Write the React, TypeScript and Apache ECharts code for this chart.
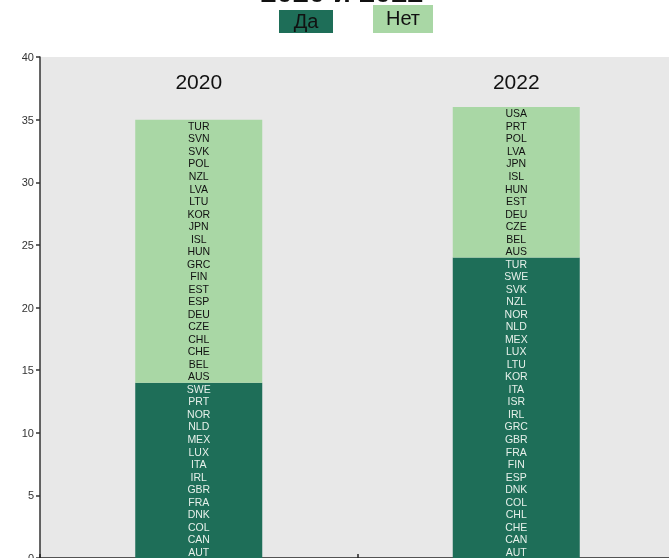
import React, { useEffect, useRef } from "react";
import * as echarts from "echarts";

const years = ["2020", "2022"];
const seriesNames = ["Да", "Нет"];
// bottom to top
const yes2020 = ["AUT", "CAN", "COL", "DNK", "FRA", "GBR", "IRL", "ITA", "LUX", "MEX", "NLD", "NOR", "PRT", "SWE"];
const no2020 = ["AUS", "BEL", "CHE", "CHL", "CZE", "DEU", "ESP", "EST", "FIN", "GRC", "HUN", "ISL", "JPN", "KOR", "LTU", "LVA", "NZL", "POL", "SVK", "SVN", "TUR"];
const yes2022 = ["AUT", "CAN", "CHE", "CHL", "COL", "DNK", "ESP", "FIN", "FRA", "GBR", "GRC", "IRL", "ISR", "ITA", "KOR", "LTU", "LUX", "MEX", "NLD", "NOR", "NZL", "SVK", "SWE", "TUR"];
const no2022 = ["AUS", "BEL", "CZE", "DEU", "EST", "HUN", "ISL", "JPN", "LVA", "POL", "PRT", "USA"];
const yTicks = [0, 40, 5];

const DARK = "#1e6e58";
const LIGHT = "#a9d7a5";
const FONT = "'Liberation Sans', Arial, sans-serif";

export default function App() {
  const ref = useRef<HTMLDivElement>(null);
  useEffect(() => {
    if (!ref.current) return;
    const chart = echarts.init(ref.current, null, { renderer: "svg" });
    const groups = [
      { yes: yes2020, no: no2020 },
      { yes: yes2022, no: no2022 },
    ];
    const levels = Math.max(...groups.map((g) => g.yes.length + g.no.length));
    const stackNames: string[][] = groups.map((g) => [...g.yes, ...g.no]);
    const series: any[] = [
      {
        name: seriesNames[0],
        type: "bar",
        stack: "blocks",
        barWidth: 127,
        barGap: "-100%",
        silent: true,
        itemStyle: { color: DARK },
        data: groups.map((g) => g.yes.length),
      },
      {
        name: seriesNames[1],
        type: "bar",
        stack: "blocks",
        barWidth: 127,
        barGap: "-100%",
        silent: true,
        itemStyle: { color: LIGHT },
        data: groups.map((g) => g.no.length),
      },
    ];
    for (let i = 0; i < levels; i++) {
      series.push({
        type: "bar",
        stack: "labels",
        barWidth: 127,
        barGap: "-100%",
        silent: true,
        itemStyle: { color: "rgba(0,0,0,0)" },
        data: groups.map((g, gi) => {
          if (i >= stackNames[gi].length) return "-";
          const isYes = i < g.yes.length;
          return {
            value: 1,
            label: { color: isYes ? "#e6f0ea" : "#111" },
          };
        }),
        label: {
          show: true,
          position: "inside",
          fontSize: 10.5,
          fontFamily: FONT,
          formatter: (p: any) => stackNames[p.dataIndex][i] || "",
        },
      });
    }
    chart.setOption({
      animation: false,
      grid: {
        left: 40,
        top: 57,
        right: -6,
        bottom: 0,
        outerBoundsMode: "none",
        containLabel: false,
        show: true,
        backgroundColor: "#e8e8e8",
        borderWidth: 0,
      },
      xAxis: [
        {
          type: "category",
          data: years,
          position: "bottom",
          axisLine: { show: true, lineStyle: { color: "#222", width: 1.5 } },
          axisTick: { show: true, inside: true, length: 4, lineStyle: { color: "#222", width: 1.5 } },
          axisLabel: { show: false },
        },
        {
          type: "category",
          data: years,
          position: "top",
          axisLine: { show: false },
          axisTick: { show: false },
          axisLabel: {
            show: true,
            inside: true,
            margin: 24,
            verticalAlign: "middle",
            fontSize: 21,
            color: "#111",
            fontFamily: FONT,
          },
        },
      ],
      yAxis: {
        type: "value",
        min: yTicks[0],
        max: yTicks[1],
        interval: yTicks[2],
        axisLine: { show: true, lineStyle: { color: "#333", width: 1.5 } },
        axisTick: { show: true, length: 4, lineStyle: { color: "#333", width: 1.5 } },
        splitLine: { show: false },
        axisLabel: { fontSize: 11, color: "#333", margin: 6, fontFamily: FONT },
      },
      graphic: [
        {
          type: "text",
          x: 342,
          y: 6,
          style: {
            text: "2020 и 2022",
            font: `bold 29px ${FONT}`,
            fill: "#111",
            align: "center",
            verticalAlign: "bottom",
          },
        },
        {
          type: "group",
          children: [
            { type: "rect", shape: { x: 279, y: 10, width: 54, height: 23 }, style: { fill: DARK } },
            {
              type: "text",
              x: 306,
              y: 21,
              style: { text: seriesNames[0], font: `20px ${FONT}`, fill: "#111", align: "center", verticalAlign: "middle" },
            },
            { type: "rect", shape: { x: 373, y: 5, width: 60, height: 28 }, style: { fill: LIGHT } },
            {
              type: "text",
              x: 403,
              y: 18,
              style: { text: seriesNames[1], font: `20px ${FONT}`, fill: "#111", align: "center", verticalAlign: "middle" },
            },
          ],
        },
      ],
      series,
    });
    return () => chart.dispose();
  }, []);
  return <div ref={ref} style={{ position: "fixed", left: 0, top: 0, width: 669, height: 558 }} />;
}
